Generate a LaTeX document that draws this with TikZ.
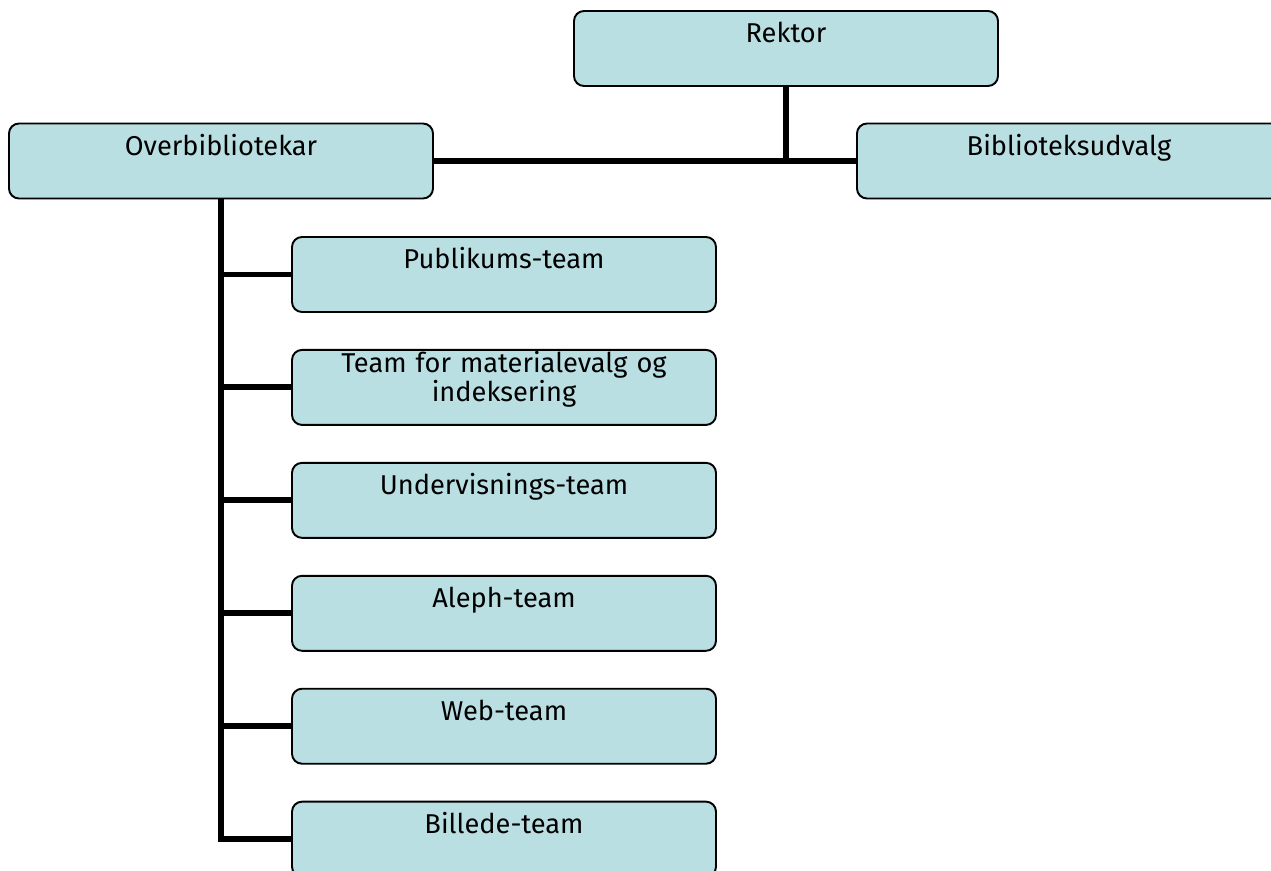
\documentclass[tikz,border=0pt]{standalone}
\usepackage{fontspec}
\setmainfont{Fira Sans}
\usetikzlibrary{positioning}
\definecolor{unitfill}{RGB}{186,223,226}

\begin{document}
\begin{tikzpicture}[node distance=0.72cm,
	unit/.style={shape=rectangle,rounded corners=0.2cm,draw=black,line width=1.1pt,fill=unitfill,
		minimum width=8.48cm,minimum height=1.5cm,text width=8.2cm,align=center,
		inner ysep=0pt,text height=0.64cm,text depth=0.86cm,
		font=\fontsize{15.5pt}{14.6pt}\selectfont},
	link/.style={line width=3.4pt}]
	\useasboundingbox (0,0) rectangle (25.42,-17.42);
	% top level
	\node (rektor) [unit] at (15.72,-0.97) {Rektor};
	\node (overbib) [unit] at (4.42,-3.22) {Overbibliotekar};
	\node (udvalg) [unit] at (21.38,-3.22) {Biblioteksudvalg};
	% teams
	\node (publikum) [unit] at (10.08,-5.49) {Publikums-team};
	\node (materiale) [unit,text height=0.46cm,text depth=1.04cm] [below=of publikum] {Team for materialevalg og\\ indeksering};
	\node (undervis) [unit] [below=of materiale] {Undervisnings-team};
	\node (aleph) [unit] [below=of undervis] {Aleph-team};
	\node (web) [unit] [below=of aleph] {Web-team};
	\node (billede) [unit] [below=of web] {Billede-team};

	\draw[link] (rektor.south) -- (rektor.south |- overbib.east);
	\draw[link] (overbib.east) -- (udvalg.west);
	\draw[link] (overbib.south) |- (billede.west);
	\foreach \team in {publikum,materiale,undervis,aleph,web}
		\draw[link] (overbib.south |- \team.west) -- (\team.west);
\end{tikzpicture}
\end{document}
